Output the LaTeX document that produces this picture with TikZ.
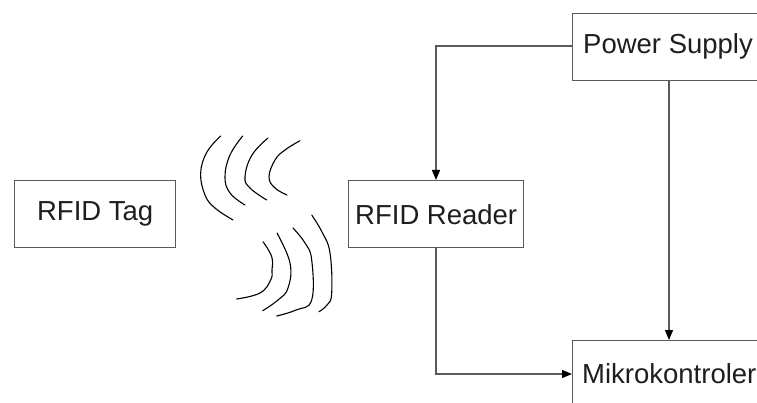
\documentclass[tikz,border=0pt]{standalone}
\usepackage{fontspec}
\setmainfont{Liberation Sans}
\usetikzlibrary{arrows.meta}
\definecolor{linegray}{HTML}{5A5A5A}
\definecolor{txt}{HTML}{1E1E1E}
\tikzset{
  blk/.style={draw=linegray, line width=1.4pt, fill=white, inner sep=0pt},
  lbl/.style={font=\fontsize{27.5}{32}\selectfont, text=txt, inner sep=0pt},
  conn/.style={draw=linegray, line width=1.4pt, -{Triangle[length=10pt,width=8pt,fill=black,color=black]}},
  wave/.style={draw=black, line width=1.1pt, line cap=round}
}
\begin{document}
\begin{tikzpicture}[x=1pt,y=-1pt]
\useasboundingbox (0,0) rectangle (757,403);
\clip (0,0) rectangle (757,403);
\fill[white] (0,0) rectangle (757,403);
% boxes
\node[blk, minimum width=161pt, minimum height=67pt, anchor=north west] (tag) at (14,180) {};
\node[lbl] (tagt) at (tag.center) {RFID Tag};
\node[blk, minimum width=175pt, minimum height=67pt, anchor=north west] (rdr) at (348,180) {};
\node[lbl] (rdrt) at (rdr.center) {RFID Reader};
\node[blk, minimum width=230pt, minimum height=67pt, anchor=north west] (ps) at (572,13) {};
\node[lbl, anchor=west] (pst) at (583,46.5) {Power Supply};
\node[blk, minimum width=230pt, minimum height=110pt, anchor=north west] (mk) at (572,340) {};
\node[lbl, anchor=west] (mkt) at (582,373.5) {Mikrokontroler};
% connectors
\coordinate (psl) at (572,46);
\coordinate (psb) at (669,80);
\draw[conn] (psl) -| (rdr.north -| 436,0);
\draw[conn] (psb) -- (669,340);
\draw[conn] (436,247) |- (572,374);
% waves
\draw[wave] plot[smooth, tension=0.7] coordinates {(220.7,136) (207,152) (200.7,173) (205,195) (215,208) (233,220)};
\draw[wave] plot[smooth, tension=0.7] coordinates {(242.7,136) (230,155) (225,176.7) (230,193) (245,205)};
\draw[wave] plot[smooth, tension=0.7] coordinates {(268,138) (252,155) (245,176.7) (250,188) (266.7,200)};
\draw[wave] plot[smooth, tension=0.7] coordinates {(300,140.7) (285,150) (275,160) (269,177) (275,188) (287,195)};
\draw[wave] plot[smooth, tension=0.7] coordinates {(263,241.7) (271.7,256.7) (272,270) (270.7,280) (260,293) (236.7,299)};
\draw[wave] plot[smooth, tension=0.7] coordinates {(277,233) (290,263) (288,288) (278,300) (262.7,310.7)};
\draw[wave] plot[smooth, tension=0.7] coordinates {(293,228) (305,243) (311.7,260) (311.7,300) (296,310) (276.7,316)};
\draw[wave] plot[smooth, tension=0.7] coordinates {(311.7,215) (322,232) (330,253) (331.7,293) (327,305) (319,311.7)};
\end{tikzpicture}
\end{document}
